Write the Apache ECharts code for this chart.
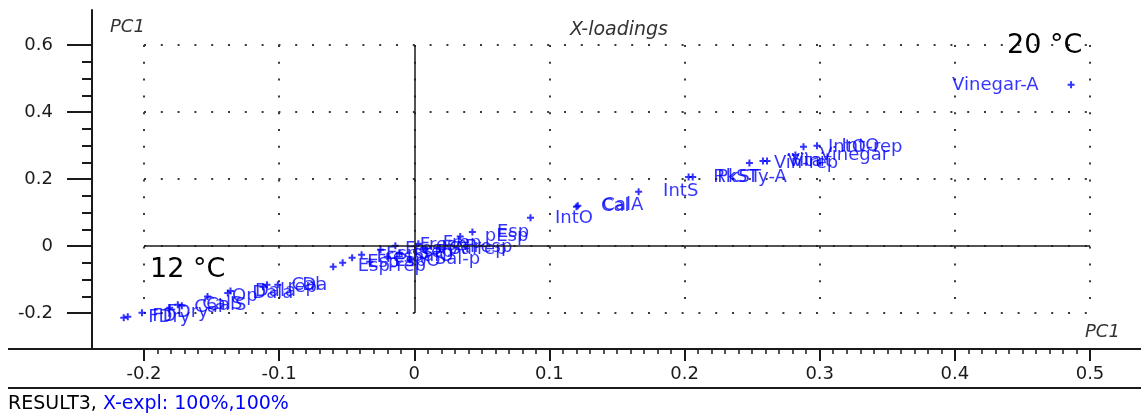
<!DOCTYPE html>
<html><head><meta charset="utf-8">
<script src="https://cdn.jsdelivr.net/npm/echarts@6/dist/echarts.min.js"></script>
<style>html,body{margin:0;padding:0;background:#fff}#c{width:1141px;height:419px}</style>
</head><body><div id="c"></div>
<script>
// ---- data ----
const sampleNames = ['FDry','FD','FDry','Cal','CalS','CalS','Op','Dala','Dala','rep','Cal','Da',
  'Esp-rep','Esp','Fresh','EspS','EspO','FreshA','SalO','Fresh','rep','Sal-p','Frep','Salrep','Fresp',
  'pEsp','Esp','IntO','CalA','Cal','IntS','RkST','PkSTy-A','Vin-rep','Vita','Vinit','Vinegar','IntO-rep','IntO','Vinegar-A'];
const pcX = [-0.215,-0.212,-0.2015,-0.181,-0.175,-0.172,-0.153,-0.138,-0.136,-0.112,-0.109,-0.101,
  -0.060,-0.053,-0.046,-0.039,-0.033,-0.025,-0.020,-0.014,-0.011,-0.003,0.003,0.008,0.019,
  0.034,0.043,0.086,0.121,0.120,0.166,0.203,0.206,0.248,0.258,0.261,0.282,0.288,0.298,0.486];
const pcY = [-0.214,-0.211,-0.199,-0.184,-0.175,-0.178,-0.151,-0.140,-0.134,-0.122,-0.116,-0.116,
  -0.062,-0.050,-0.035,-0.026,-0.047,-0.011,-0.032,0.001,-0.020,-0.041,0.007,-0.011,-0.005,
  0.028,0.042,0.084,0.120,0.117,0.162,0.206,0.206,0.248,0.254,0.254,0.272,0.296,0.299,0.481];
const xTickLabels = ['-0.2','-0.1','0','0.1','0.2','0.3','0.4','0.5'];
const yTickLabels = ['-0.2','0','0.2','0.4','0.6'];

// ---- styling ----
const BLUE = '#0000ff', INK = '#1a1a1a', FONT = 'DejaVu Sans';
const xMin = parseFloat(xTickLabels[0]), xMax = parseFloat(xTickLabels[xTickLabels.length-1]);
const yMin = parseFloat(yTickLabels[0]), yMax = parseFloat(yTickLabels[yTickLabels.length-1]);

const points = sampleNames.map((n, i) => {
  const item = { name: n, value: [pcX[i], pcY[i]] };
  if (pcX[i] > 0.4) item.label = { position: 'left', distance: 29 };
  return item;
});

const chart = echarts.init(document.getElementById('c'), null, { renderer: 'canvas' });
chart.setOption({
  animation: false,
  backgroundColor: '#fff',
  title: { text: 'X-loadings', left: 565, top: 16,
    textStyle: { fontFamily: FONT, fontStyle: 'italic', fontWeight: 'normal', fontSize: 19, color: '#333' } },
  grid: [
    { left: 92, top: 10, right: 0, bottom: 70 },
    { left: 144, top: 45, right: 51, bottom: 106 }
  ],
  xAxis: [
    { gridIndex: 0, type: 'value', min: 0, max: 1,
      axisLine: { show: true, onZero: false, lineStyle: { color: INK, width: 2 } },
      axisTick: { show: false }, axisLabel: { show: false }, splitLine: { show: false } },
    { gridIndex: 1, type: 'value', min: xMin, max: xMax, interval: 0.1, position: 'bottom', offset: 36,
      axisLine: { show: false, onZero: false },
      axisTick: { show: true, length: 12, lineStyle: { color: INK, width: 2 } },
      minorTick: { show: true, splitNumber: 10, length: 5, lineStyle: { color: INK, width: 1.5 } },
      axisLabel: { margin: 16, fontFamily: FONT, fontSize: 18, color: INK,
        formatter: (v) => xTickLabels[Math.round((v - xMin) / 0.1)] },
      splitLine: { show: true, lineStyle: { color: '#3a3a3a', width: 2, type: [2, 14.8] } } }
  ],
  yAxis: [
    { gridIndex: 0, type: 'value', min: 0, max: 1,
      axisLine: { show: true, onZero: false, lineStyle: { color: INK, width: 2 } },
      axisTick: { show: false }, axisLabel: { show: false }, splitLine: { show: false } },
    { gridIndex: 1, type: 'value', min: yMin, max: yMax, interval: 0.2, position: 'left', offset: 52,
      axisLine: { show: false, onZero: false },
      axisTick: { show: true, length: 25, lineStyle: { color: INK, width: 2 } },
      minorTick: { show: true, splitNumber: 4, length: 10, lineStyle: { color: INK, width: 2 } },
      axisLabel: { margin: 39, fontFamily: FONT, fontSize: 18, color: INK,
        formatter: (v) => yTickLabels[Math.round((v - yMin) / 0.2)] },
      splitLine: { show: true, lineStyle: { color: '#3a3a3a', width: 2, type: [2, 14.8] } } }
  ],
  series: [{
    type: 'scatter', xAxisIndex: 1, yAxisIndex: 1, clip: false, silent: true,
    symbol: 'path://M2.5,0h2v2.5h2.5v2h-2.5v2.5h-2v-2.5h-2.5v-2h2.5z', symbolSize: 7,
    itemStyle: { color: BLUE },
    label: { show: true, formatter: '{b}', position: 'right', distance: 21,
      color: BLUE, fontFamily: FONT, fontSize: 18 },
    data: points,
    markLine: { silent: true, symbol: ['none', 'none'], animation: false,
      label: { show: false }, lineStyle: { color: INK, width: 1.5, type: 'solid' },
      emphasis: { disabled: true },
      data: [{ xAxis: 0 }, { yAxis: 0 }] }
  }],
  graphic: [
    { type: 'line', shape: { x1: 8, y1: 349, x2: 92, y2: 349 }, style: { stroke: INK, lineWidth: 2 } },
    { type: 'line', shape: { x1: 8, y1: 388, x2: 1141, y2: 388 }, style: { stroke: INK, lineWidth: 2 } },
    { type: 'text', x: 110, y: 27, style: { text: 'PC1', fill: '#333', font: 'italic 18px "DejaVu Sans"', verticalAlign: 'middle' } },
    { type: 'text', x: 1085, y: 332, style: { text: 'PC1', fill: '#333', font: 'italic 18px "DejaVu Sans"', verticalAlign: 'middle' } },
    { type: 'text', x: 150, y: 270, style: { text: '12 °C', fill: '#000', font: '27px "DejaVu Sans"', verticalAlign: 'middle' } },
    { type: 'text', x: 1007, y: 46, style: { text: '20 °C', fill: '#000', font: '27px "DejaVu Sans"', verticalAlign: 'middle' } },
    { type: 'text', x: 8, y: 404, style: {
      text: '{a|RESULT3, }{b|X-expl: 100%,100%}', verticalAlign: 'middle',
      rich: { a: { fill: '#000', fontFamily: FONT, fontSize: 19 }, b: { fill: BLUE, fontFamily: FONT, fontSize: 19 } } } }
  ]
});
</script></body></html>
